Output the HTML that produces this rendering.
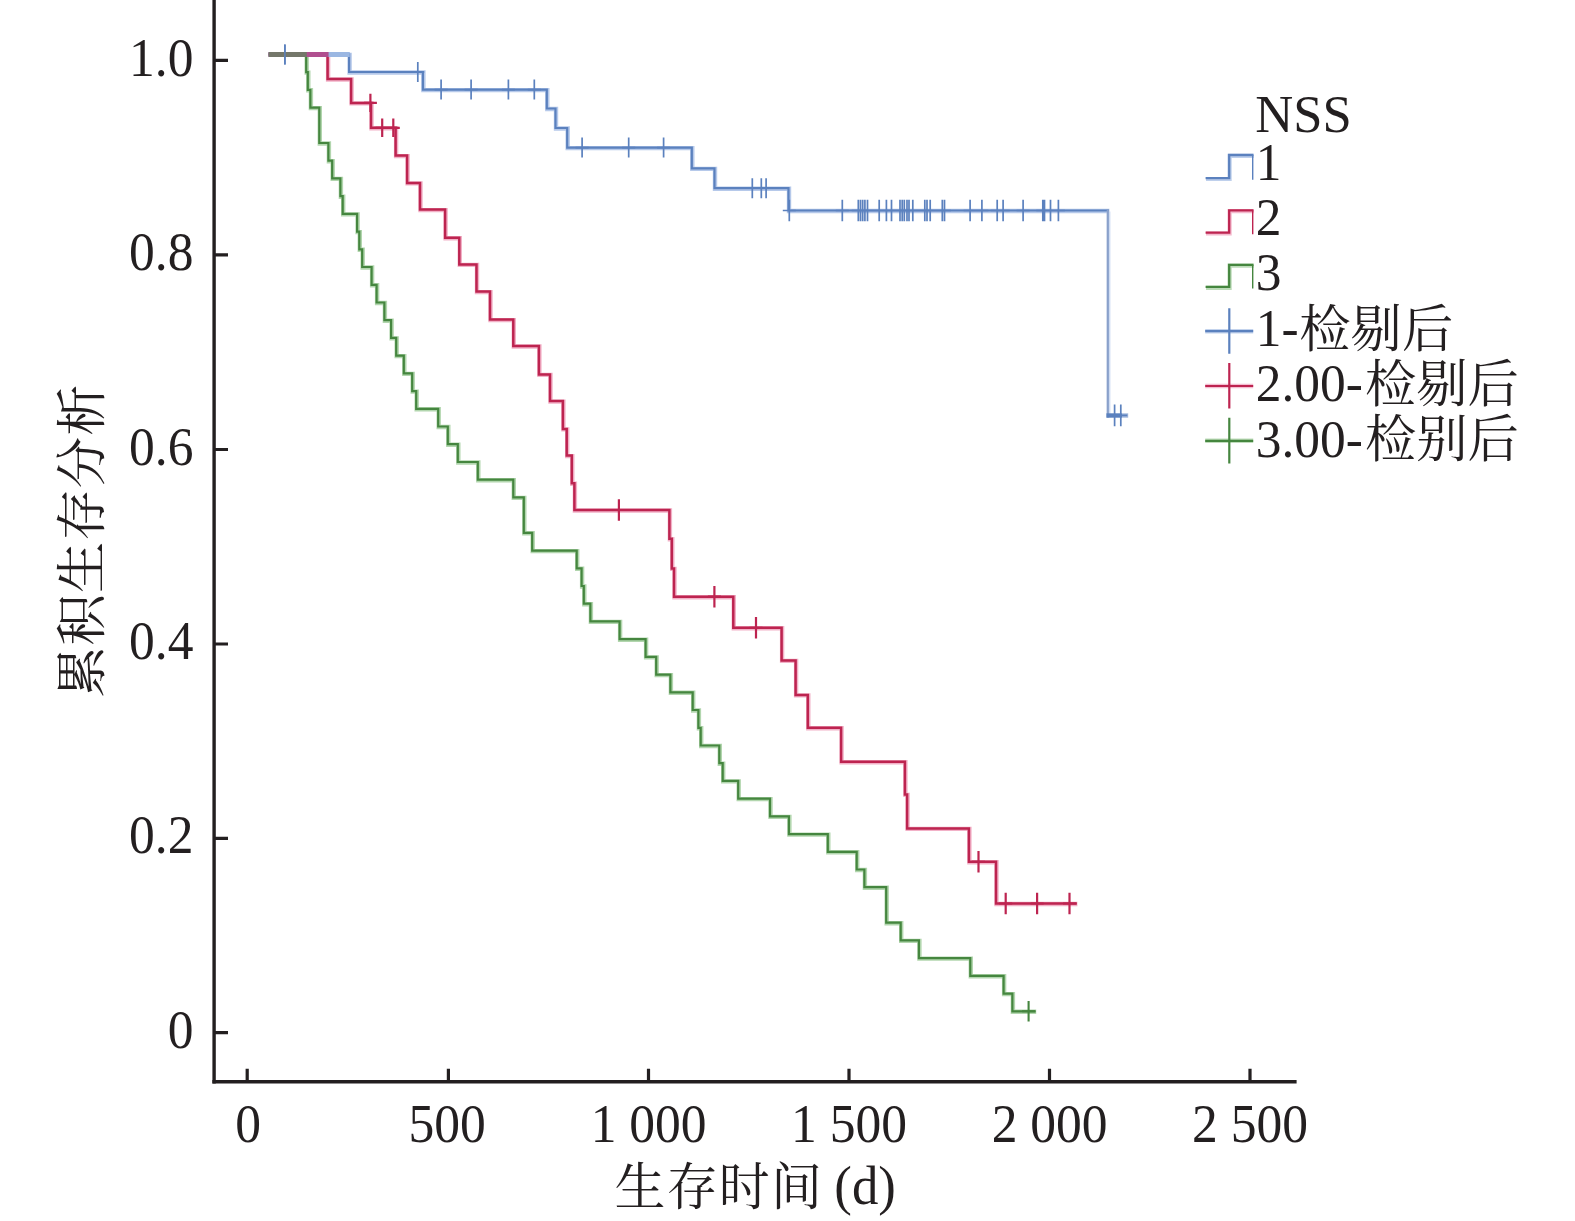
<!DOCTYPE html>
<html lang="zh-CN">
<head>
<meta charset="utf-8">
<title>NSS 生存曲线</title>
<style>
html,body{margin:0;padding:0;background:#fff;}
body{width:1575px;height:1221px;overflow:hidden;}
svg{display:block;}
text{font-family:"Liberation Serif","Noto Serif CJK SC",serif;fill:#231f20;}
.l{font-family:"Liberation Serif",serif;}
.c{font-family:"Liberation Serif","Noto Serif CJK SC",serif;font-weight:400;}
</style>
</head>
<body>
<svg width="1575" height="1221" viewBox="0 0 1575 1221">
<rect width="1575" height="1221" fill="#fff"/>
<g fill="none" stroke-linejoin="miter" stroke-linecap="butt">
<path d="M268.6,54.4H349.1V72.0H422.9V89.6H546.8V108.5H555.5V128.0H567.2V147.6H691.8V168.4H714.5V188.2H788.5V210.5H1108.9" stroke="#a9c0e6" stroke-width="4.4" transform="translate(0.5,0.5)" opacity="0.85"/>
<path d="M268.6,54.4H349.1V72.0H422.9V89.6H546.8V108.5H555.5V128.0H567.2V147.6H691.8V168.4H714.5V188.2H788.5V210.5H1108.9" stroke="#5b81be" stroke-width="2.2"/>
<path d="M268.6,54.4H327.6V79.0H351.1V102.9H371.0V127.8H395.6V155.6H407.1V182.9H420.0V209.6H445.1V237.8H459.3V264.4H476.5V291.6H490.0V319.6H513.3V346.0H538.9V374.4H550.0V401.1H562.9V428.9H566.7V455.6H571.8V483.3H574.4V510.0H669.4V538.7H671.8V568.4H674.0V596.7H733.3V627.8H781.6V660.4H795.6V694.9H807.8V727.8H841.1V761.7H904.9V794.4H907.1V828.4H968.9V861.8H996.0V903.5H1076.9" stroke="#f0a3bd" stroke-width="4.4" transform="translate(0.5,0.5)" opacity="0.85"/>
<path d="M268.6,54.4H327.6V79.0H351.1V102.9H371.0V127.8H395.6V155.6H407.1V182.9H420.0V209.6H445.1V237.8H459.3V264.4H476.5V291.6H490.0V319.6H513.3V346.0H538.9V374.4H550.0V401.1H562.9V428.9H566.7V455.6H571.8V483.3H574.4V510.0H669.4V538.7H671.8V568.4H674.0V596.7H733.3V627.8H781.6V660.4H795.6V694.9H807.8V727.8H841.1V761.7H904.9V794.4H907.1V828.4H968.9V861.8H996.0V903.5H1076.9" stroke="#bd2450" stroke-width="2.5"/>
<path d="M268.6,54.4H306.2V72.1H307.8V89.8H310.4V107.6H319.3V143.0H328.4V160.7H332.2V178.4H340.4V196.2H342.7V213.9H357.1V231.6H359.3V249.3H362.2V267.0H371.6V284.8H376.6V302.5H384.4V320.2H391.1V337.9H396.2V355.6H403.8V373.4H412.2V391.1H416.2V408.8H438.2V426.5H447.8V444.2H457.8V462.0H477.8V479.7H513.3V497.4H523.8V532.8H532.2V550.6H576.7V568.3H581.6V586.0H583.8V603.7H590.4V621.4H619.6V639.2H645.6V656.9H656.2V674.6H670.4V692.3H692.7V710.0H698.4V727.8H700.7V745.5H719.3V763.2H722.7V780.9H738.2V798.6H770.0V816.4H788.9V834.1H827.8V851.8H856.7V869.5H864.4V887.2H886.2V922.7H900.7V940.4H918.9V958.1H970.3V975.8H1003.6V993.6H1012.4V1011.3H1035.7" stroke="#a5cfa0" stroke-width="4.4" transform="translate(0.5,0.5)" opacity="0.85"/>
<path d="M268.6,54.4H306.2V72.1H307.8V89.8H310.4V107.6H319.3V143.0H328.4V160.7H332.2V178.4H340.4V196.2H342.7V213.9H357.1V231.6H359.3V249.3H362.2V267.0H371.6V284.8H376.6V302.5H384.4V320.2H391.1V337.9H396.2V355.6H403.8V373.4H412.2V391.1H416.2V408.8H438.2V426.5H447.8V444.2H457.8V462.0H477.8V479.7H513.3V497.4H523.8V532.8H532.2V550.6H576.7V568.3H581.6V586.0H583.8V603.7H590.4V621.4H619.6V639.2H645.6V656.9H656.2V674.6H670.4V692.3H692.7V710.0H698.4V727.8H700.7V745.5H719.3V763.2H722.7V780.9H738.2V798.6H770.0V816.4H788.9V834.1H827.8V851.8H856.7V869.5H864.4V887.2H886.2V922.7H900.7V940.4H918.9V958.1H970.3V975.8H1003.6V993.6H1012.4V1011.3H1035.7" stroke="#45863f" stroke-width="2.2"/>
<path d="M1108.6,211.6V417.4" stroke="#cfdcf2" stroke-width="3.6"/>
<path d="M1107.8,209.3V417.6" stroke="#8aa1cb" stroke-width="2.2"/>
<path d="M1106.4,415.5H1122" stroke="#5b81be" stroke-width="4.4"/>
<path d="M1122,415.5H1128.2" stroke="#a3b8dc" stroke-width="4.4"/>
</g>
<g fill="none">
<path d="M284.9,44.4v20.0M278.4,54.4h13.0M417.8,62.0v20.0M411.3,72.0h13.0M441.1,79.6v20.0M434.6,89.6h13.0M471.1,79.6v20.0M464.6,89.6h13.0M508.4,79.6v20.0M501.9,89.6h13.0M534.3,79.6v20.0M527.8,89.6h13.0M582.1,137.6v20.0M575.6,147.6h13.0M628.7,137.6v20.0M622.2,147.6h13.0M663.6,137.6v20.0M657.1,147.6h13.0M752.3,178.2v20.0M745.8,188.2h13.0M761.3,178.2v20.0M754.8,188.2h13.0M766.1,178.2v20.0M759.6,188.2h13.0M789.3,199.7v21.6M782.8,210.5h13.0M842.3,199.7v21.6M835.8,210.5h13.0M858.3,199.7v21.6M851.8,210.5h13.0M860.5,199.7v21.6M854.0,210.5h13.0M862.7,199.7v21.6M856.2,210.5h13.0M864.9,199.7v21.6M858.4,210.5h13.0M867.5,199.7v21.6M861.0,210.5h13.0M879.2,199.7v21.6M872.7,210.5h13.0M886.4,199.7v21.6M879.9,210.5h13.0M891.5,199.7v21.6M885.0,210.5h13.0M900.0,199.7v21.6M893.5,210.5h13.0M902.2,199.7v21.6M895.7,210.5h13.0M904.3,199.7v21.6M897.8,210.5h13.0M907.0,199.7v21.6M900.5,210.5h13.0M909.0,199.7v21.6M902.5,210.5h13.0M912.8,199.7v21.6M906.3,210.5h13.0M924.8,199.7v21.6M918.3,210.5h13.0M927.0,199.7v21.6M920.5,210.5h13.0M930.2,199.7v21.6M923.7,210.5h13.0M942.3,199.7v21.6M935.8,210.5h13.0M944.5,199.7v21.6M938.0,210.5h13.0M970.1,199.7v21.6M963.6,210.5h13.0M981.9,199.7v21.6M975.4,210.5h13.0M997.2,199.7v21.6M990.7,210.5h13.0M1003.1,199.7v21.6M996.6,210.5h13.0M1023.1,199.7v21.6M1016.6,210.5h13.0M1042.8,199.7v21.6M1036.3,210.5h13.0M1044.5,199.7v21.6M1038.0,210.5h13.0M1050.5,199.7v21.6M1044.0,210.5h13.0M1058.4,199.7v21.6M1051.9,210.5h13.0M1114.6,404.6v21.6M1108.1,415.4h13.0M1120.8,404.6v21.6M1114.3,415.4h13.0" stroke="#5b81be" stroke-width="1.7"/>
<path d="M370.4,93.7v18.4M363.9,102.9h13.0M382.2,118.6v18.4M375.7,127.8h13.0M393.3,118.6v18.4M386.8,127.8h13.0M618.9,499.3v21.4M612.4,510.0h13.0M714.4,586.0v21.4M707.9,596.7h13.0M756.0,617.1v21.4M749.5,627.8h13.0M978.5,851.1v21.4M972.0,861.8h13.0M1005.7,892.8v21.4M999.2,903.5h13.0M1037.1,892.8v21.4M1030.6,903.5h13.0M1069.5,892.8v21.4M1063.0,903.5h13.0" stroke="#bd2450" stroke-width="2.2"/>
<path d="M1028.6,1001.0v20.6M1022.1,1011.3h13.0" stroke="#45863f" stroke-width="2.1"/>
</g>
<g stroke-width="5.2" fill="none">
<path d="M268.6,54.5H349.8" stroke="#9bb7e2"/>
<path d="M268.6,54.5H328.6" stroke="#b04f8f"/>
<path d="M268.6,54.5H306.8" stroke="#74776a"/>
</g>
<path d="M284.9,44.6V64.6" stroke="#5b81be" stroke-width="1.5" fill="none"/>
<g stroke="#231f20" stroke-width="3.4" fill="none">
<path d="M214.1,0V1083.4"/>
<path d="M212.4,1081.7H1296.6"/>
<path d="M214,60.3H228M214,254.9H228M214,449.5H228M214,644.0H228M214,838.3H228M214,1032.7H228M247.2,1082V1068.8M448.4,1082V1068.8M648.5,1082V1068.8M849.0,1082V1068.8M1049.5,1082V1068.8M1250.0,1082V1068.8" stroke-width="3.2"/>
</g>
<g>
<text class="l" transform="translate(193.4,76.0) scale(0.937,1)" font-size="55.0" text-anchor="end">1.0</text>
<text class="l" transform="translate(193.4,270.3) scale(0.937,1)" font-size="55.0" text-anchor="end">0.8</text>
<text class="l" transform="translate(193.4,464.8) scale(0.937,1)" font-size="55.0" text-anchor="end">0.6</text>
<text class="l" transform="translate(193.4,659.3) scale(0.937,1)" font-size="55.0" text-anchor="end">0.4</text>
<text class="l" transform="translate(193.4,853.0) scale(0.937,1)" font-size="55.0" text-anchor="end">0.2</text>
<text class="l" transform="translate(193.4,1047.9) scale(0.937,1)" font-size="55.0" text-anchor="end">0</text>
</g>
<g>
<text class="l" transform="translate(248.2,1141.8) scale(0.927,1)" font-size="55.6" text-anchor="middle">0</text>
<text class="l" transform="translate(447.2,1141.8) scale(0.927,1)" font-size="55.6" text-anchor="middle">500</text>
<text class="l" transform="translate(648.6,1141.8) scale(0.927,1)" font-size="55.6" text-anchor="middle">1 000</text>
<text class="l" transform="translate(849.0,1141.8) scale(0.927,1)" font-size="55.6" text-anchor="middle">1 500</text>
<text class="l" transform="translate(1049.6,1141.8) scale(0.927,1)" font-size="55.6" text-anchor="middle">2 000</text>
<text class="l" transform="translate(1250.0,1141.8) scale(0.927,1)" font-size="55.6" text-anchor="middle">2 500</text>
</g>
<g>
<text class="c" x="614.6" y="1204.6" font-size="51.0" letter-spacing="1.1">生存时间</text>
<text class="l" transform="translate(834.3,1204.0) scale(0.95,1)" font-size="55.6">(d)</text>
</g>
<text class="c" text-anchor="middle" transform="translate(99.5,540.6) rotate(-90)" font-size="51.3" letter-spacing="1.1">累积生存分析</text>
<g>
<text class="l" transform="translate(1255.3,132.0) scale(1.0,1)" font-size="52.6">NSS</text>
<text class="l" transform="translate(1255.8,180.2) scale(0.96,1)" font-size="53.6">1</text>
<text class="l" transform="translate(1255.8,235.2) scale(0.96,1)" font-size="53.6">2</text>
<text class="l" transform="translate(1255.8,290.4) scale(0.96,1)" font-size="53.6">3</text>
<text class="l" transform="translate(1255.8,345.7) scale(0.96,1)" font-size="53.6">1-</text>
<text class="c" x="1299.3" y="346.5" font-size="51.3">检剔后</text>
<text class="l" transform="translate(1255.8,401.2) scale(0.96,1)" font-size="53.6">2.00-</text>
<text class="c" x="1365.0" y="402.0" font-size="51.3">检剔后</text>
<text class="l" transform="translate(1255.8,456.5) scale(0.96,1)" font-size="53.6">3.00-</text>
<text class="c" x="1365.0" y="457.3" font-size="51.3">检别后</text>
</g>
<g fill="none">
<path d="M1205.6,178.1H1229.2V155.0H1253.4" stroke="#a9c0e6" stroke-width="4.2" transform="translate(0.4,0.9)" opacity="0.75"/>
<path d="M1205.6,178.1H1229.2V155.0H1253.4" stroke="#5b81be" stroke-width="2.3"/>
<path d="M1252.7,155.0V179.7" stroke="#5b81be" stroke-width="1.4"/>
<path d="M1205.6,232.6H1229.2V210.3H1253.4" stroke="#f0a3bd" stroke-width="4.2" transform="translate(0.4,0.9)" opacity="0.75"/>
<path d="M1205.6,232.6H1229.2V210.3H1253.4" stroke="#bd2450" stroke-width="2.3"/>
<path d="M1252.7,210.3V234.2" stroke="#bd2450" stroke-width="1.4"/>
<path d="M1205.6,286.9H1229.2V264.8H1253.4" stroke="#a5cfa0" stroke-width="4.2" transform="translate(0.4,0.9)" opacity="0.75"/>
<path d="M1205.6,286.9H1229.2V264.8H1253.4" stroke="#45863f" stroke-width="2.3"/>
<path d="M1252.7,264.8V288.5" stroke="#45863f" stroke-width="1.4"/>
<path d="M1205.2,331.2H1253.2" stroke="#a9c0e6" stroke-width="4.4" opacity="0.7"/>
<path d="M1205.2,331.2H1253.2M1229.3,308.2V353.8" stroke="#5b81be" stroke-width="2.2"/>
<path d="M1205.2,386.0H1253.2" stroke="#f0a3bd" stroke-width="4.4" opacity="0.7"/>
<path d="M1205.2,386.0H1253.2M1229.3,363.0V408.6" stroke="#bd2450" stroke-width="2.2"/>
<path d="M1205.2,440.8H1253.2" stroke="#a5cfa0" stroke-width="4.4" opacity="0.7"/>
<path d="M1205.2,440.8H1253.2M1229.3,417.8V463.40000000000003" stroke="#45863f" stroke-width="2.2"/>
</g>
</svg>
</body>
</html>
